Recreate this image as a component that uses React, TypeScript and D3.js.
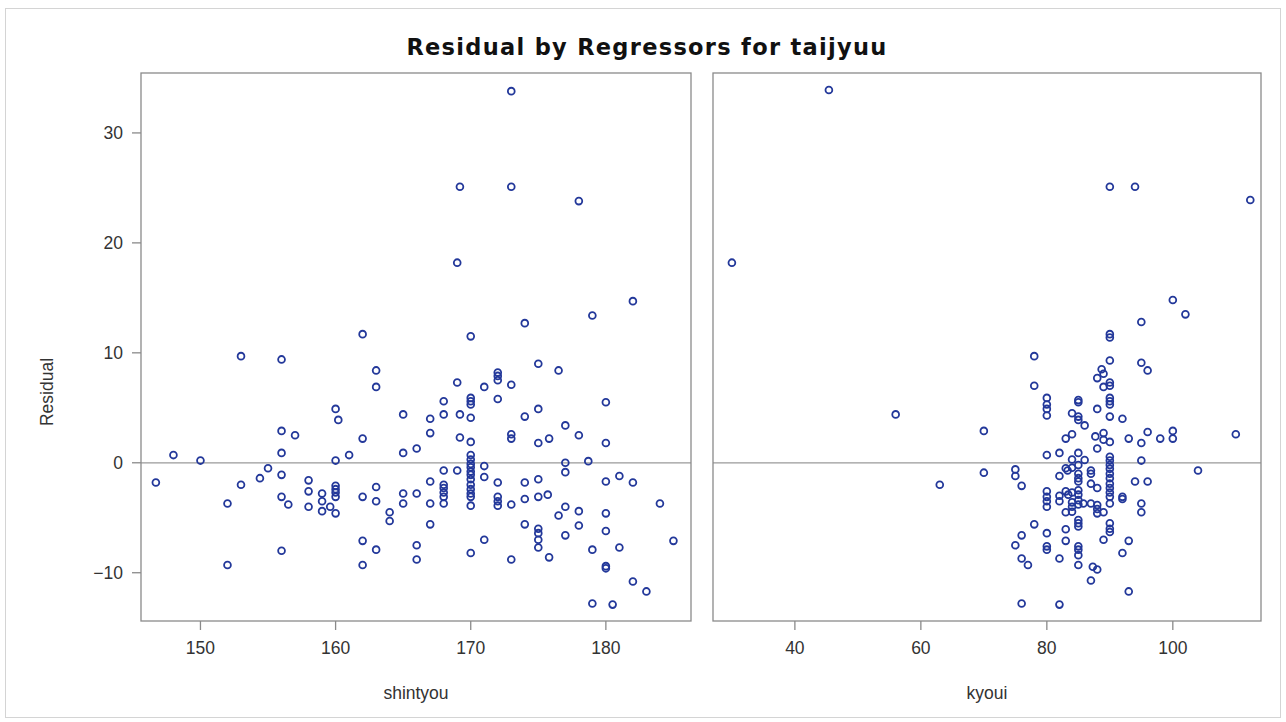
import React from 'react';
import * as d3 from 'd3';

// residual vs. shintyou  [shintyou, residual]
const shintyouPts: [number, number][] = [
  [153, 9.7], [156, 9.4], [162, 11.7], [163, 8.4], [163, 6.9], [165, 4.4], [160, 4.9], [160.2, 3.9],
  [156, 2.9], [157, 2.5], [162, 2.2], [156, 0.9], [148, 0.7], [150, 0.2], [160, 0.2], [161, 0.7],
  [165, 0.9], [166, 1.3], [146.7, -1.8], [155, -0.5], [154.4, -1.4], [153, -2.0], [156, -1.1], [152, -3.7],
  [156, -3.1], [156.5, -3.8], [158, -1.6], [158, -2.6], [158, -4.0], [159, -2.8], [159, -3.5], [159, -4.4],
  [159.6, -4.0], [160, -2.1], [160, -2.4], [160, -2.7], [160, -3.1], [160, -4.6], [162, -3.1], [163, -2.2],
  [163, -3.5], [164, -4.5], [164, -5.3], [165, -2.8], [165, -3.7], [166, -2.8], [156, -8.0], [152, -9.3],
  [162, -7.1], [163, -7.9], [162, -9.3], [166, -7.5], [166, -8.8],
  [173, 33.8], [169.2, 25.1], [173, 25.1], [178, 23.8], [169, 18.2], [182, 14.7], [179, 13.4], [174, 12.7],
  [170, 11.5], [175, 9.0], [172, 8.2], [172, 7.9], [172, 7.5], [169, 7.3], [171, 6.9], [173, 7.1],
  [168, 5.6], [170, 5.9], [170, 5.6], [170, 5.3], [172, 5.8], [175, 4.9], [167, 4.0], [168, 4.4],
  [169.2, 4.4], [170, 4.1], [174, 4.2], [167, 2.7], [169.2, 2.3], [170, 1.9], [173, 2.6], [173, 2.2],
  [175, 1.8], [175.8, 2.2],
  [170, 0.7], [170, 0.3], [170, -0.1], [170, -0.4], [170, -0.8], [170, -1.1], [170, -1.5], [170, -2.0],
  [170, -2.4], [170, -2.8], [170, -3.1], [170, -3.9],
  [168, -0.7], [169, -0.7], [171, -0.3], [171, -1.3], [167, -1.7], [168, -2.0], [168, -2.3], [168, -2.7],
  [168, -3.1], [168, -3.7], [172, -1.8], [174, -1.8], [175, -1.5], [167, -3.7], [172, -3.1], [172, -3.5],
  [172, -3.9], [173, -3.8], [174, -3.3], [175, -3.1], [175.7, -2.9], [167, -5.6], [174, -5.6], [175, -6.0],
  [175, -6.4], [175, -7.0], [175, -7.7], [175.8, -8.6], [171, -7.0], [170, -8.2], [173, -8.8],
  [176.5, 8.4], [180, 5.5], [177, 3.4], [178, 2.5], [180, 1.8], [177, 0.0], [177, -0.85], [178.7, 0.15],
  [180, -1.7], [181, -1.2], [182, -1.8], [184, -3.7], [177, -4.0], [176.5, -4.8], [178, -4.4], [180, -4.6],
  [178, -5.7], [177, -6.6], [180, -6.2], [179, -7.9], [181, -7.7], [185, -7.1], [180, -9.4], [180, -9.6],
  [182, -10.8], [183, -11.7], [179, -12.8], [180.5, -12.9],
];

// residual vs. kyoui  [kyoui, residual]
const kyouiPts: [number, number][] = [
  [30, 18.2], [45.4, 33.9], [56, 4.4], [63, -2.0], [70, 2.9], [70, -0.9],
  [90, 25.1], [94, 25.1], [112.3, 23.9], [100, 14.8], [102, 13.5], [95, 12.8], [95, 9.1], [96, 8.4],
  [92, 4.0], [93, 2.2], [95, 1.8], [96, 2.8], [98, 2.2], [100, 2.9], [100, 2.2], [110, 2.6],
  [95, 0.2], [104, -0.7], [94, -1.7], [96, -1.7], [92, -3.1], [92, -3.3], [95, -3.7], [95, -4.5],
  [93, -7.1], [92, -8.2], [93, -11.7],
  [78, 9.7], [78, 7.0], [90, 11.7], [90, 11.4], [90, 9.3], [88.7, 8.5], [89, 8.1], [88, 7.7],
  [90, 7.3], [90, 7.0], [89, 6.9], [80, 5.9], [80, 5.3], [80, 4.9], [80, 4.3], [85, 5.7],
  [85, 5.5], [88, 4.9], [90, 5.9], [90, 5.6], [90, 5.3], [84, 4.5], [85, 4.2], [85, 3.9],
  [86, 3.4], [90, 4.2], [83, 2.2], [84, 2.6], [87.7, 2.4], [89, 2.7], [89, 2.1], [90, 1.9],
  [88, 1.3], [80, 0.7], [82, 0.9], [85, 0.9], [84, 0.3], [86, 0.25], [90, 0.55], [90, 0.2],
  [90, -0.2], [90, -0.55], [75, -0.6], [83, -0.5], [84, -0.45], [85, -0.2], [87, -0.7],
  [75, -1.2], [76, -2.1], [82, -1.2], [83.3, -0.7], [85, -1.0], [85, -1.4], [85, -1.7], [87, -1.0],
  [87, -1.9], [88, -2.3], [90, -1.0], [90, -1.4], [90, -1.9], [90, -2.3], [90, -2.7], [90, -3.1],
  [90, -3.7], [80, -2.6], [80, -3.1], [80, -3.5], [80, -4.0], [82, -3.0], [82, -3.5], [83, -2.6],
  [83.4, -2.9], [84, -2.7], [84, -3.6], [84, -4.0], [85, -2.5], [85, -2.9], [85, -3.4], [85, -3.8],
  [85.8, -3.7], [87, -3.7], [88, -3.85], [88, -4.2], [88, -4.6], [89, -4.5], [83, -4.5], [84, -4.45],
  [78, -5.6], [80, -6.4], [80, -7.6], [80, -7.9], [83, -6.05], [83, -7.1], [85, -5.2], [85, -5.5],
  [85, -5.8], [90, -5.5], [90, -6.0], [90, -6.3], [89, -7.0], [76, -6.6], [75, -7.5], [76, -8.7],
  [77, -9.3], [82, -8.7], [85, -7.6], [85, -7.9], [85, -8.4], [85, -9.3], [87.3, -9.45], [88, -9.7],
  [87, -10.7], [76, -12.8], [82, -12.9],
];

const yTicks = [-10, 0, 10, 20, 30];
const shintyouTicks = [150, 160, 170, 180];
const kyouiTicks = [40, 60, 80, 100];

const W = 1286;
const H = 722;
const top = 73;
const bottom = 621;
const markerColor = '#23389a';
const frameColor = '#8a8a8a';
const textColor = '#333333';
const font = '"Liberation Sans", Arial, sans-serif';

const y = d3.scaleLinear().domain([-14.39, 35.45]).range([bottom, top]);

type PanelProps = {
  pts: [number, number][];
  ticks: number[];
  domain: [number, number];
  left: number;
  right: number;
  label: string;
  showY: boolean;
};

const Panel = ({ pts, ticks, domain, left, right, label, showY }: PanelProps) => {
  const x = d3.scaleLinear().domain(domain).range([left, right]);
  return (
    <g>
      <line x1={left} x2={right} y1={y(0)} y2={y(0)} stroke="#9a9a9a" strokeWidth={1.3} />
      {pts.map(([px, py], i) => (
        <circle key={i} cx={x(px)} cy={y(py)} r={3.4} fill="none" stroke={markerColor} strokeWidth={1.8} />
      ))}
      <rect x={left} y={top} width={right - left} height={bottom - top} fill="none" stroke={frameColor} strokeWidth={1.3} />
      {ticks.map(t => (
        <g key={t}>
          <line x1={x(t)} x2={x(t)} y1={bottom} y2={bottom + 9} stroke={frameColor} strokeWidth={1.3} />
          <text x={x(t)} y={654} textAnchor="middle" fontSize={17.5} fill={textColor} fontFamily={font}>{t}</text>
        </g>
      ))}
      {showY && yTicks.map(t => (
        <g key={t}>
          <line x1={left - 9} x2={left} y1={y(t)} y2={y(t)} stroke={frameColor} strokeWidth={1.3} />
          <text x={left - 18} y={y(t) + 6} textAnchor="end" fontSize={17.5} fill={textColor} fontFamily={font}>
            {t < 0 ? `\u2212${Math.abs(t)}` : t}
          </text>
        </g>
      ))}
      <text x={(left + right) / 2} y={699} textAnchor="middle" fontSize={17.5} fill={textColor} fontFamily={font}>{label}</text>
    </g>
  );
};

export default function App() {
  return (
    <div style={{ position: 'absolute', left: 0, top: 0 }}>
      <svg width={W} height={H} style={{ display: 'block', background: '#fff' }}>
        <rect x={5.5} y={8.5} width={1275} height={709} fill="none" stroke="#d4d4d4" strokeWidth={1} />
        <text x={647} y={55} textAnchor="middle" fontSize={22.5} fontWeight="bold" fill="#111"
          letterSpacing={1.3} fontFamily={'"DejaVu Sans", sans-serif'}>
          Residual by Regressors for taijyuu
        </text>
        <Panel pts={shintyouPts} ticks={shintyouTicks} domain={[145.6, 186.3]} left={141} right={691} label="shintyou" showY />
        <Panel pts={kyouiPts} ticks={kyouiTicks} domain={[27, 114]} left={713} right={1261} label="kyoui" showY={false} />
        <text transform={`translate(53,392) rotate(-90)`} textAnchor="middle" fontSize={17.5} fill={textColor} fontFamily={font}>
          Residual
        </text>
      </svg>
    </div>
  );
}
